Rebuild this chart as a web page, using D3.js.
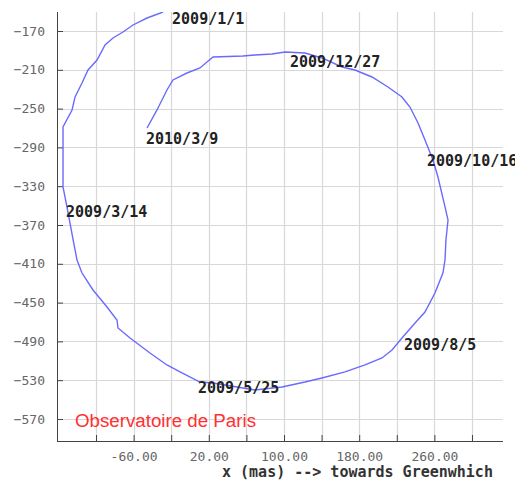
<!DOCTYPE html>
<html><head><meta charset="utf-8">
<script src="https://cdn.jsdelivr.net/npm/d3@7"></script>
<style>
html,body{margin:0;padding:0;background:#fff;}
svg{display:block;}
</style></head>
<body>
<script>
// Polar motion path (mas)
const pathX = [-28.7,-45.7,-60.6,-71.3,-81.9,-90.4,-98.9,-108.5,-114.9,-122.3,-125.5,-135.1,-135.1,-135.1,-135.1,-130.9,-127.7,-124.3,-120.2,-114.9,-103.2,-88.3,-77.7,-76.6,-63.8,-42.6,-24.5,-10.6,10.6,24.5,69.1,97.9,122.3,140.4,164.9,186.2,204.3,214.9,225.5,239.4,250,260.6,269.1,271.3,272.3,274.5,271.3,263.8,258.5,250,242.6,234,225.5,210.6,193.6,175.5,161.7,140.4,122.3,101.1,87.2,69.1,56.4,24.5,18.1,10.6,-3.2,-18.1,-24.5,-35.1,-45.7];
const pathY = [-150.4,-156.6,-163.8,-171,-177.2,-184.4,-199.9,-210.2,-223.6,-238,-251.4,-269,-275.2,-292.7,-330.8,-351.4,-367.9,-385.5,-406.1,-419.5,-437,-454.5,-467.9,-476.2,-486.5,-502,-514.3,-521.5,-531.9,-532.9,-540.1,-537,-531.9,-527.7,-521.5,-514.3,-507.1,-498.9,-486.5,-471,-459.7,-440.1,-419.5,-406.1,-385.5,-364.8,-351.4,-320.5,-303,-282.4,-264.8,-248.4,-238,-227.7,-217.4,-210.2,-207.1,-197.8,-192.7,-191.6,-193.7,-194.7,-195.8,-196.8,-202,-208.1,-213.3,-220.5,-230.8,-251.4,-270];

const dateLabels = ["2009/1/1","2009/12/27","2010/3/9","2009/10/16","2009/3/14","2009/8/5","2009/5/25"];
const dateLabelX = [-19.1,106.4,-46.8,252.1,-131.9,227.7,8.5];
const dateLabelY = [-162.8,-207.1,-286.5,-309.2,-361.8,-498.9,-543.2];

const yTicks = [-170,-210,-250,-290,-330,-370,-410,-450,-490,-530,-570];
const xTicks = [-100,-60,-20,20,60,100,140,180,220,260,300];
const xTickLabels = [-60,20,100,180,260];

const W = 515, H = 482;
const mL = 57, mR = 503, mT = 12, mB = 441;

const x = d3.scaleLinear().domain([-141.5, 333]).range([mL, mR]);
const y = d3.scaleLinear().domain([-150.4, -592.7]).range([mT, mB]);

const svg = d3.select("body").append("svg").attr("width", W).attr("height", H);

svg.append("defs").append("clipPath").attr("id","clip")
  .append("rect").attr("x", mL).attr("y", mT).attr("width", mR-mL).attr("height", mB-mT);

// grid
const g = svg.append("g");
g.selectAll(".hg").data(yTicks).join("line")
  .attr("x1", mL).attr("x2", mR)
  .attr("y1", d=>Math.round(y(d))+0.5).attr("y2", d=>Math.round(y(d))+0.5)
  .attr("stroke","#d8d8d8").attr("stroke-width",1.2);
g.selectAll(".vg").data(xTicks).join("line")
  .attr("y1", mT).attr("y2", mB)
  .attr("x1", d=>Math.round(x(d))+0.5).attr("x2", d=>Math.round(x(d))+0.5)
  .attr("stroke","#d8d8d8").attr("stroke-width",1.2);

// axes
const yAxis = d3.axisLeft(y).tickValues(yTicks).tickSize(-6).tickPadding(12).tickFormat(d3.format("d"));
const yg = svg.append("g").attr("transform",`translate(${mL},0)`).call(yAxis);
yg.select(".domain").attr("stroke","#444").attr("d",`M0.5,${mT}V${mB}`);
yg.selectAll(".tick line").attr("stroke","#444");
yg.selectAll(".tick text").attr("fill","#666").attr("font-family","'DejaVu Sans Mono', monospace").attr("font-size",13);

const xAxis = d3.axisBottom(x).tickValues(xTicks).tickSize(-6).tickPadding(11)
  .tickFormat(d => xTickLabels.includes(d) ? d.toFixed(2) : "");
const xg = svg.append("g").attr("transform",`translate(0,${mB})`).call(xAxis);
xg.select(".domain").attr("stroke","#444").attr("d",`M${mL},0.5H${mR}`);
xg.selectAll(".tick line").attr("stroke","#444");
xg.selectAll(".tick text").attr("fill","#666").attr("font-family","'DejaVu Sans Mono', monospace").attr("font-size",13);

// path
const pts = pathX.map((v,i)=>[v, pathY[i]]);
svg.append("path").datum(pts)
  .attr("clip-path","url(#clip)")
  .attr("fill","none").attr("stroke","#6a6aff").attr("stroke-width",1.4)
  .attr("d", d3.line().x(d=>x(d[0])).y(d=>y(d[1])));

// date labels
svg.selectAll(".dl").data(dateLabels).join("text")
  .attr("x",(d,i)=>x(dateLabelX[i])).attr("y",(d,i)=>y(dateLabelY[i]))
  .attr("font-family","'DejaVu Sans Mono', monospace").attr("font-size",15).attr("font-weight","bold")
  .attr("fill","#222").text(d=>d);

// watermark
svg.append("text").attr("x",75).attr("y",427)
  .attr("font-family","'Liberation Sans', Arial, sans-serif").attr("font-size",18)
  .attr("textLength",181).attr("lengthAdjust","spacingAndGlyphs")
  .attr("fill","#ff3030").text("Observatoire de Paris");

// axis title
svg.append("text").attr("x",222).attr("y",477)
  .attr("font-family","'DejaVu Sans Mono', monospace").attr("font-size",15).attr("font-weight","bold")
  .attr("fill","#333").text("x (mas) --> towards Greenwhich");
</script>
</body></html>
